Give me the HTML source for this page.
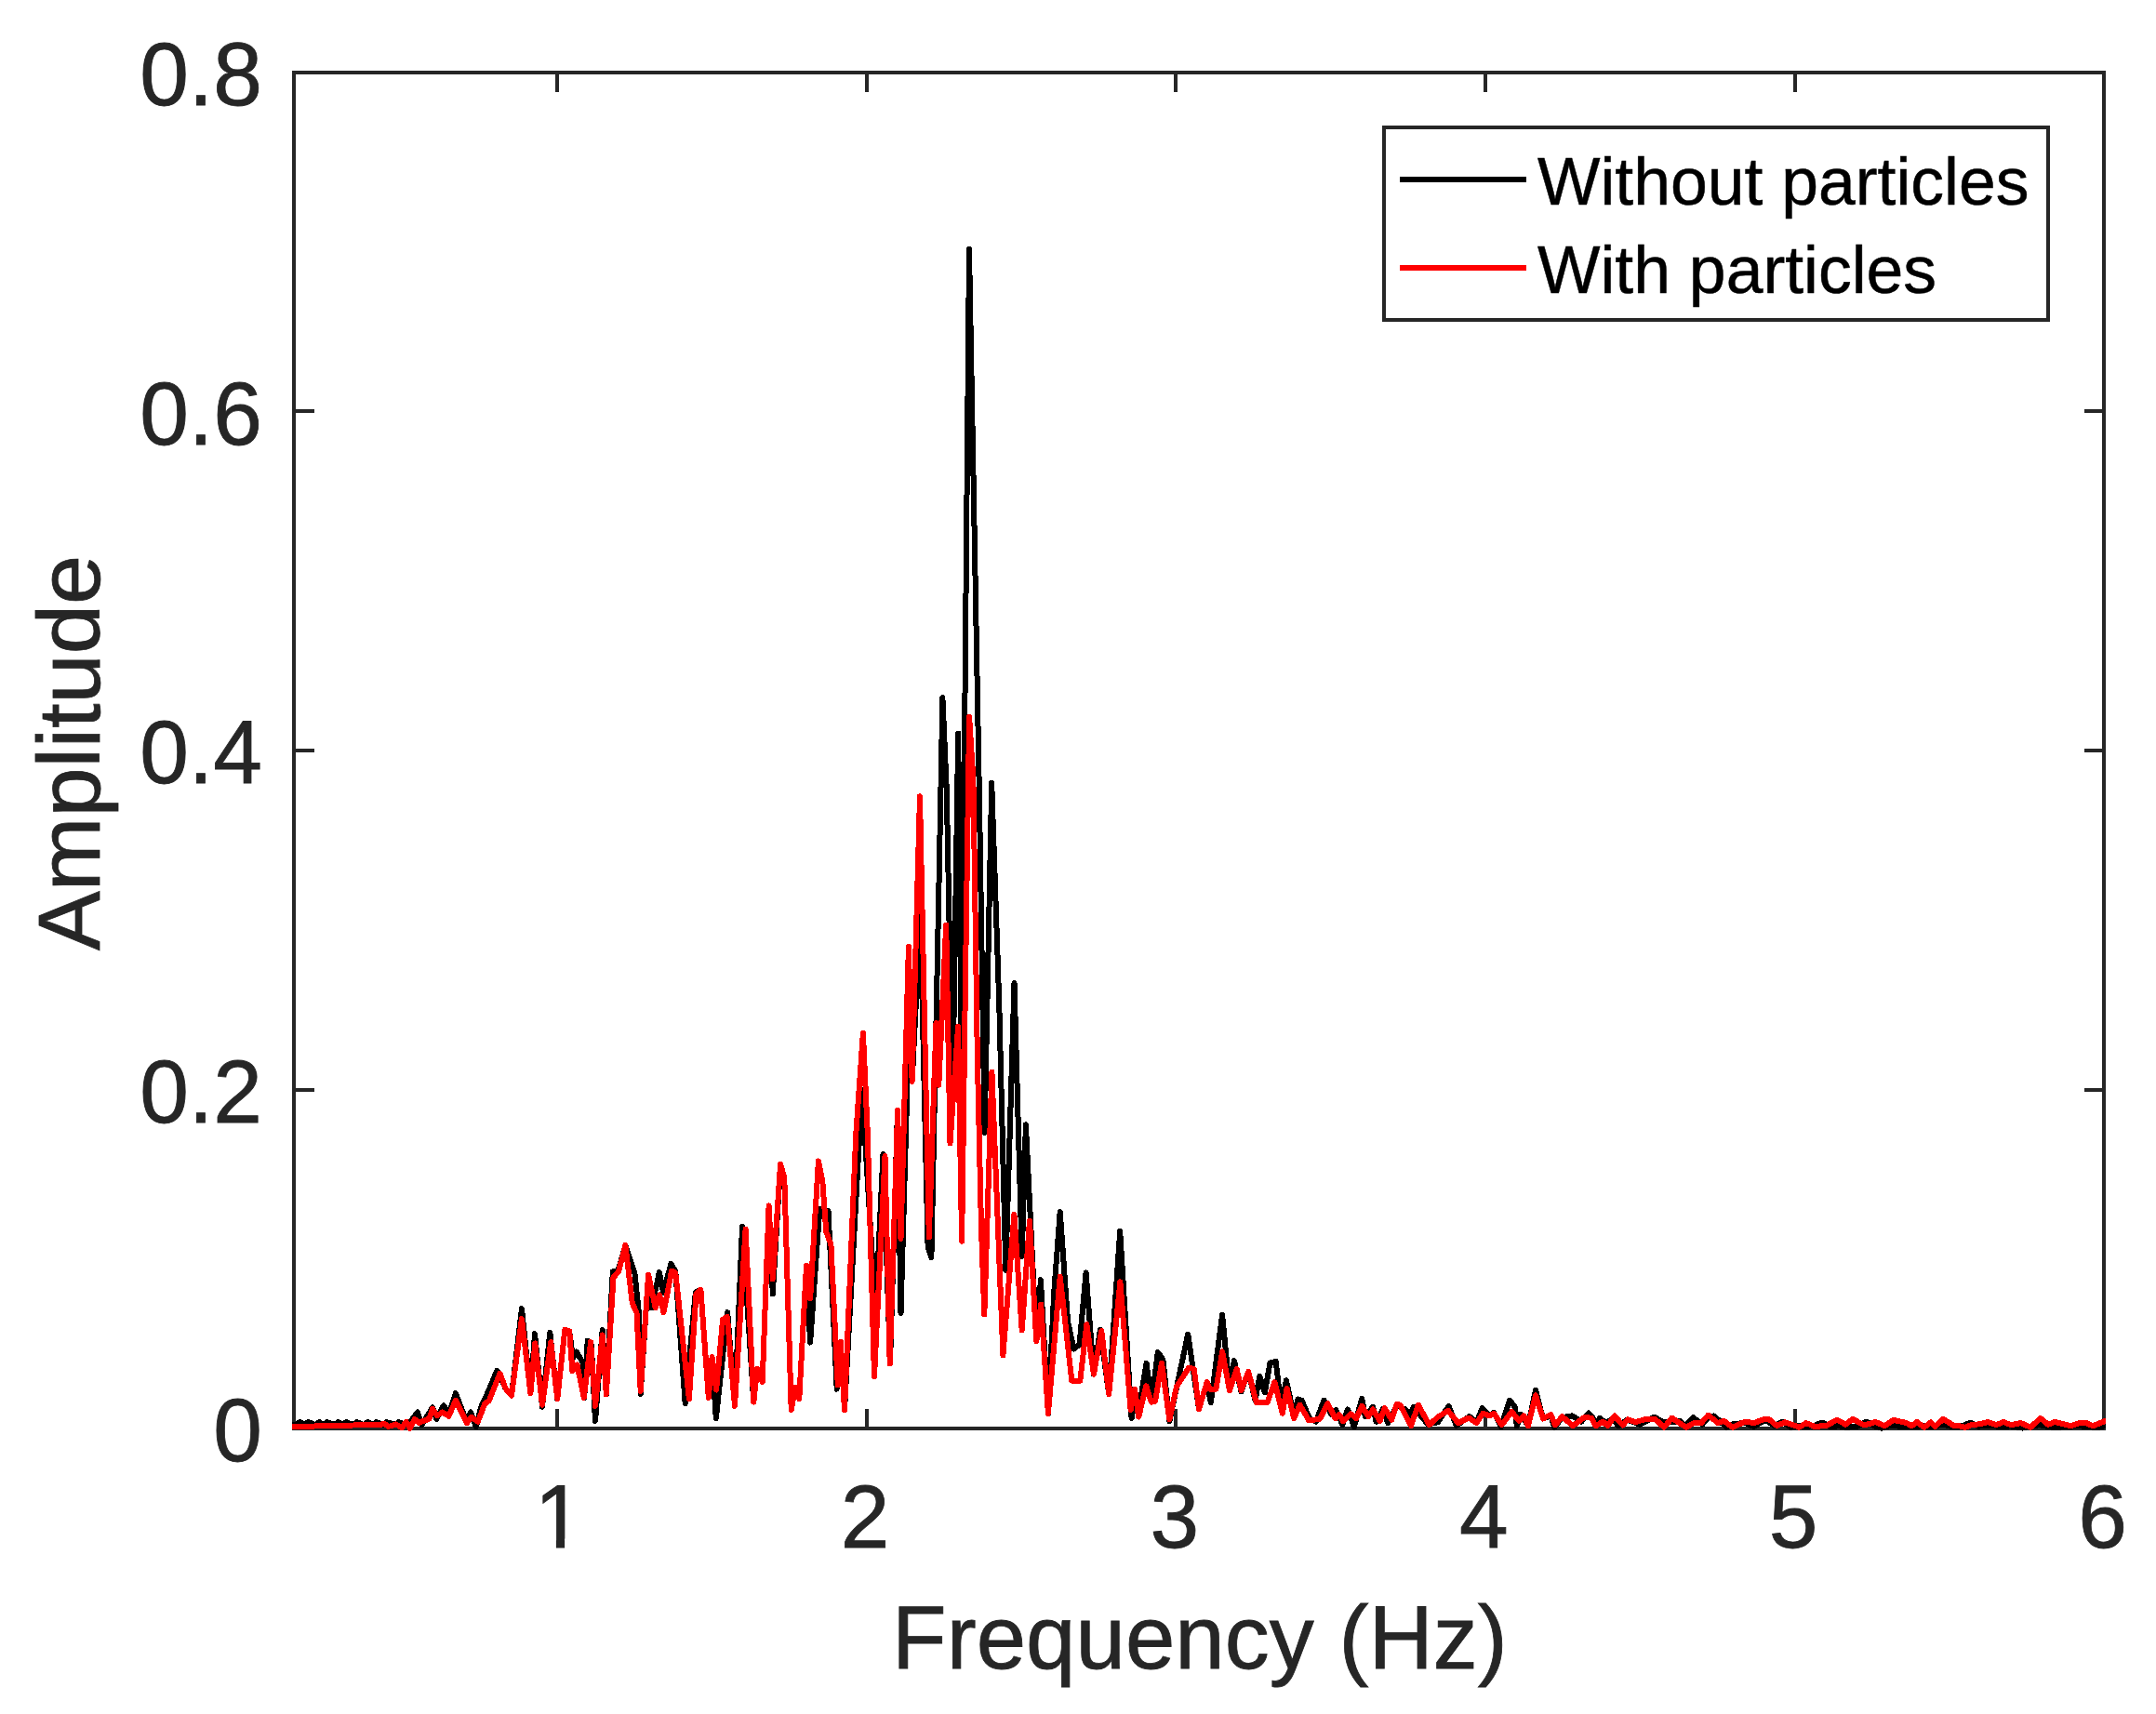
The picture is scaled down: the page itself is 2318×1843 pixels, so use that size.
<!DOCTYPE html>
<html lang="en"><head><meta charset="utf-8"><title>Amplitude spectrum</title>
<style>html,body{margin:0;padding:0;background:#fff;}body{width:2318px;height:1843px;overflow:hidden;}svg{display:block;}</style>
</head><body>
<svg width="2318" height="1843" viewBox="0 0 2318 1843">
<rect x="0" y="0" width="2318" height="1843" fill="#ffffff"/>
<g fill="none" stroke="#262626" stroke-width="4" shape-rendering="crispEdges">
<rect x="316" y="78" width="1946" height="1458"/>
<line x1="599" y1="1536" x2="599" y2="1515"/>
<line x1="599" y1="78" x2="599" y2="99"/>
<line x1="932" y1="1536" x2="932" y2="1515"/>
<line x1="932" y1="78" x2="932" y2="99"/>
<line x1="1264" y1="1536" x2="1264" y2="1515"/>
<line x1="1264" y1="78" x2="1264" y2="99"/>
<line x1="1597" y1="1536" x2="1597" y2="1515"/>
<line x1="1597" y1="78" x2="1597" y2="99"/>
<line x1="1930" y1="1536" x2="1930" y2="1515"/>
<line x1="1930" y1="78" x2="1930" y2="99"/>
<line x1="316" y1="1172" x2="338" y2="1172"/>
<line x1="2262" y1="1172" x2="2241" y2="1172"/>
<line x1="316" y1="807" x2="338" y2="807"/>
<line x1="2262" y1="807" x2="2241" y2="807"/>
<line x1="316" y1="442" x2="338" y2="442"/>
<line x1="2262" y1="442" x2="2241" y2="442"/>
</g>
<clipPath id="plotclip"><rect x="314" y="76" width="1950" height="1463"/></clipPath>
<g clip-path="url(#plotclip)" fill="none" stroke-width="6" stroke-linejoin="round" stroke-linecap="butt" shape-rendering="crispEdges">
<path stroke="#000000" d="M312.0,1531.5 L318.3,1531.9 L322.5,1529.1 L327.0,1531.9 L331.1,1529.1 L338.9,1531.9 L343.1,1529.1 L347.6,1531.9 L351.7,1529.1 L359.4,1531.9 L363.6,1529.1 L368.0,1531.9 L372.2,1529.1 L379.6,1531.9 L383.7,1529.1 L391.0,1531.9 L395.2,1529.1 L400.4,1531.9 L404.6,1529.1 L411.6,1531.9 L415.7,1529.1 L424.4,1531.9 L428.5,1529.1 L435.2,1531.5 L440.8,1529.4 L448.9,1518.5 L453.3,1532.2 L465.1,1513.4 L469.3,1525.9 L477.0,1511.3 L482.5,1521.1 L489.9,1498.1 L502.0,1529.4 L505.9,1518.3 L511.8,1534.3 L517.3,1512.7 L525.0,1496.0 L534.3,1473.7 L543.8,1493.5 L550.0,1500.5 L561.0,1407.0 L570.4,1498.1 L575.0,1434.1 L583.0,1512.7 L591.3,1432.7 L599.2,1504.4 L607.3,1429.9 L612.2,1431.3 L615.9,1460.5 L619.8,1453.6 L626.8,1465.4 L628.2,1503.0 L631.7,1441.7 L635.8,1445.9 L640.0,1528.0 L647.7,1429.9 L651.8,1499.5 L658.8,1367.3 L664.4,1366.6 L672.4,1339.5 L682.4,1368.7 L686.6,1409.0 L688.7,1498.8 L697.1,1370.8 L700.5,1406.3 L708.9,1368.0 L713.1,1389.6 L721.4,1359.0 L726.3,1367.3 L736.7,1509.2 L747.8,1389.6 L753.4,1386.8 L761.8,1503.0 L765.6,1459.1 L769.8,1525.2 L782.2,1411.1 L790.0,1512.0 L798.0,1319.0 L810.3,1507.6 L814.1,1472.0 L819.7,1486.0 L826.6,1296.4 L830.8,1391.4 L839.1,1251.8 L843.3,1266.0 L850.7,1515.9 L855.1,1492.0 L859.3,1504.0 L867.0,1360.8 L871.1,1443.6 L881.3,1299.8 L890.5,1302.0 L899.7,1493.7 L903.8,1442.9 L908.0,1516.0 L926.8,1171.8 L941.4,1410.2 L949.5,1241.0 L957.0,1466.0 L965.0,1194.0 L968.5,1412.0 L977.0,1112.0 L980.8,1160.0 L989.5,985.0 L997.6,1341.0 L1001.4,1352.0 L1008.8,985.0 L1013.4,750.0 L1017.8,850.0 L1024.2,1180.0 L1030.2,788.5 L1033.8,1140.0 L1042.0,268.0 L1052.8,850.0 L1058.6,1217.7 L1066.2,842.0 L1074.3,1080.0 L1081.3,1365.7 L1090.5,1057.0 L1098.7,1351.0 L1102.9,1209.4 L1114.3,1440.8 L1118.9,1376.1 L1126.9,1520.1 L1133.2,1390.0 L1139.7,1303.0 L1148.1,1421.0 L1154.4,1450.5 L1160.6,1445.7 L1167.6,1368.4 L1175.9,1477.7 L1182.9,1429.7 L1192.2,1499.2 L1204.2,1323.9 L1216.6,1525.0 L1220.4,1504.8 L1223.9,1518.7 L1232.6,1465.8 L1238.1,1507.6 L1244.8,1454.0 L1250.4,1461.7 L1257.3,1528.2 L1277.2,1434.5 L1289.0,1515.2 L1297.7,1486.0 L1301.8,1508.3 L1314.1,1413.7 L1322.0,1495.1 L1326.9,1463.1 L1334.5,1496.4 L1342.2,1474.9 L1349.5,1505.7 L1354.3,1480.0 L1359.9,1497.4 L1365.5,1465.4 L1371.7,1464.0 L1377.3,1511.3 L1382.9,1484.2 L1391.2,1522.4 L1395.4,1504.4 L1399.6,1505.7 L1407.9,1525.2 L1414.9,1528.7 L1423.5,1505.7 L1431.6,1521.1 L1436.4,1516.2 L1443.4,1532.2 L1449.0,1515.5 L1455.9,1534.3 L1464.3,1503.7 L1467.7,1523.1 L1476.1,1512.7 L1479.6,1528.7 L1487.2,1514.8 L1492.1,1530.1 L1501.8,1511.3 L1510.9,1515.5 L1515.8,1522.4 L1519.9,1512.7 L1527.6,1522.4 L1534.5,1530.8 L1545.7,1529.4 L1557.5,1512.0 L1565.8,1532.9 L1579.8,1523.1 L1587.4,1529.4 L1593.7,1514.1 L1601.3,1521.7 L1606.2,1519.0 L1613.8,1534.3 L1623.0,1505.6 L1629.1,1513.3 L1630.7,1533.2 L1635.3,1520.9 L1642.9,1533.2 L1651.0,1494.6 L1659.0,1525.5 L1667.4,1522.4 L1671.2,1534.7 L1679.6,1524.0 L1690.4,1522.4 L1700.3,1528.6 L1708.0,1519.4 L1717.1,1530.1 L1720.2,1524.7 L1726.3,1530.1 L1734.0,1525.5 L1740.1,1533.2 L1749.3,1526.7 L1763.1,1531.6 L1778.4,1523.7 L1789.1,1529.3 L1806.7,1528.3 L1812.0,1533.2 L1820.5,1524.3 L1830.4,1531.6 L1836.5,1524.0 L1842.7,1522.4 L1856.4,1534.7 L1864.1,1530.9 L1876.3,1530.1 L1885.5,1533.9 L1897.8,1527.0 L1908.5,1533.2 L1916.1,1528.6 L1925.3,1534.7 L1934.5,1533.2 L1939.5,1534.0 L1948.9,1533.3 L1959.2,1529.6 L1967.8,1534.0 L1977.3,1533.3 L1985.2,1534.8 L1996.2,1534.0 L2006.5,1528.8 L2015.2,1533.3 L2023.0,1535.6 L2034.1,1532.5 L2043.5,1534.0 L2056.2,1534.4 L2065.6,1533.3 L2076.7,1534.0 L2089.3,1531.7 L2100.3,1534.4 L2109.8,1533.3 L2118.5,1529.6 L2127.1,1533.7 L2138.2,1532.5 L2150.8,1534.0 L2161.8,1533.4 L2174.4,1535.6 L2183.9,1533.3 L2193.4,1532.2 L2201.2,1534.0 L2210.7,1535.3 L2221.7,1533.7 L2234.4,1533.3 L2245.4,1534.0 L2254.9,1535.3 L2266.0,1532.5"/>
<path stroke="#ff0000" d="M312.0,1533.9 L351.7,1533.3 L379.6,1532.5 L407.4,1532.2 L413.0,1530.8 L417.8,1533.9 L425.5,1531.5 L432.4,1535.2 L436.6,1528.7 L440.8,1535.7 L445.7,1525.9 L450.5,1529.7 L457.5,1527.3 L461.7,1525.2 L465.1,1514.8 L470.0,1522.2 L475.6,1518.5 L482.5,1522.7 L489.9,1505.7 L502.0,1530.1 L506.9,1523.8 L513.8,1528.7 L521.5,1508.8 L525.7,1506.4 L537.5,1476.8 L543.8,1493.5 L550.0,1500.5 L561.0,1418.0 L570.4,1498.1 L575.3,1444.5 L583.0,1510.6 L592.3,1443.1 L599.2,1504.4 L607.3,1429.9 L612.2,1431.3 L615.4,1474.4 L620.5,1467.5 L627.8,1503.0 L635.1,1443.1 L640.0,1512.0 L647.7,1435.5 L651.8,1499.5 L659.5,1373.6 L665.1,1367.3 L672.4,1338.8 L679.7,1400.7 L684.5,1411.8 L688.7,1496.0 L697.1,1370.8 L704.7,1406.3 L708.9,1392.4 L713.5,1411.1 L722.1,1366.6 L726.3,1368.7 L740.9,1504.4 L748.5,1391.0 L753.4,1386.8 L761.8,1503.0 L765.6,1459.1 L770.1,1494.6 L777.1,1418.8 L781.9,1416.0 L790.0,1512.0 L801.6,1321.8 L810.3,1507.6 L814.1,1472.0 L819.7,1486.0 L826.6,1296.4 L830.8,1375.4 L839.1,1251.8 L843.3,1266.0 L850.7,1515.9 L855.1,1492.0 L859.3,1504.0 L867.0,1360.8 L871.1,1396.3 L879.9,1248.4 L884.3,1270.0 L888.3,1324.7 L893.4,1338.0 L900.8,1489.5 L903.8,1442.9 L908.0,1516.0 L920.3,1219.0 L927.9,1110.6 L932.8,1219.0 L940.0,1480.4 L951.5,1243.0 L956.7,1466.5 L965.1,1194.1 L968.5,1332.0 L976.9,1017.7 L980.6,1162.8 L989.0,856.3 L998.8,1330.4 L1006.5,1100.0 L1009.3,1166.7 L1017.2,994.5 L1021.5,1229.4 L1030.1,1104.0 L1034.1,1334.7 L1038.3,1030.0 L1042.1,771.0 L1046.4,838.0 L1050.8,1134.0 L1055.0,1320.0 L1058.3,1413.4 L1066.4,1152.8 L1078.4,1457.3 L1090.4,1305.8 L1098.7,1430.4 L1107.0,1312.8 L1114.3,1442.2 L1119.2,1402.5 L1126.9,1520.1 L1139.7,1372.6 L1152.3,1484.6 L1161.3,1484.6 L1168.3,1424.1 L1175.9,1477.7 L1184.3,1431.1 L1192.2,1499.2 L1204.4,1378.2 L1215.6,1515.9 L1220.0,1493.9 L1224.2,1523.6 L1232.3,1490.2 L1237.8,1507.6 L1242.0,1506.9 L1249.0,1465.6 L1257.3,1526.4 L1265.0,1490.9 L1278.2,1470.7 L1283.8,1472.1 L1289.0,1515.2 L1297.7,1486.0 L1300.5,1493.7 L1307.4,1493.7 L1314.1,1453.3 L1322.0,1495.1 L1329.7,1472.1 L1334.5,1495.1 L1342.2,1474.9 L1350.9,1508.5 L1362.7,1507.8 L1370.4,1486.3 L1378.7,1519.7 L1383.6,1493.2 L1391.2,1525.2 L1397.5,1510.6 L1407.2,1527.3 L1419.0,1525.9 L1427.4,1509.2 L1435.7,1525.2 L1439.9,1521.1 L1444.1,1528.0 L1452.4,1520.4 L1458.0,1525.2 L1464.3,1512.0 L1471.2,1523.1 L1476.1,1515.5 L1483.7,1528.0 L1488.6,1514.1 L1496.3,1526.6 L1501.8,1509.9 L1505.3,1510.6 L1517.1,1532.9 L1524.8,1510.6 L1536.6,1532.2 L1545.7,1523.8 L1556.8,1516.9 L1567.9,1530.1 L1579.1,1524.5 L1587.4,1530.1 L1594.4,1519.7 L1601.3,1522.4 L1606.2,1519.7 L1614.5,1532.2 L1625.3,1517.9 L1633.0,1527.8 L1638.3,1522.4 L1642.9,1533.2 L1651.0,1500.3 L1659.0,1525.5 L1667.4,1520.9 L1672.0,1532.4 L1679.6,1523.2 L1691.1,1533.2 L1703.4,1524.0 L1711.0,1524.7 L1715.6,1533.2 L1723.3,1528.6 L1728.6,1533.2 L1735.8,1522.4 L1744.7,1532.4 L1750.1,1526.3 L1758.5,1529.3 L1767.7,1526.3 L1779.9,1526.3 L1789.1,1534.7 L1797.5,1524.7 L1812.8,1534.7 L1821.2,1530.1 L1828.9,1530.1 L1836.5,1521.7 L1847.2,1530.1 L1853.4,1527.8 L1862.6,1534.7 L1876.3,1528.6 L1885.5,1530.1 L1896.2,1526.3 L1902.3,1526.3 L1910.0,1532.9 L1919.2,1529.3 L1934.5,1534.7 L1941.8,1530.1 L1950.5,1533.7 L1963.1,1533.3 L1974.9,1526.6 L1984.4,1531.7 L1991.8,1525.8 L2004.1,1532.5 L2016.7,1529.0 L2026.2,1533.3 L2035.7,1526.9 L2049.9,1530.1 L2055.4,1533.3 L2060.9,1529.0 L2068.8,1534.8 L2075.9,1529.3 L2080.6,1533.7 L2089.3,1525.8 L2101.1,1533.3 L2106.6,1533.3 L2112.9,1534.8 L2119.2,1532.2 L2128.7,1531.2 L2137.4,1529.0 L2146.0,1532.2 L2153.9,1529.0 L2161.8,1532.2 L2172.9,1530.1 L2183.1,1534.8 L2193.7,1524.9 L2202.0,1531.7 L2209.1,1529.0 L2226.5,1533.3 L2235.9,1530.1 L2243.0,1530.1 L2250.1,1533.3 L2266.0,1526.9"/>
</g>
<g font-family="'Liberation Sans', Arial, Helvetica, sans-serif" font-size="94px" fill="#262626" stroke="#262626" stroke-width="0.8">
<text transform="translate(601.0,1664.3) scale(1.007,1.031)" text-anchor="middle">1</text>
<text transform="translate(930.1,1664.3) scale(1.007,1.031)" text-anchor="middle">2</text>
<text transform="translate(1262.8,1664.3) scale(1.007,1.031)" text-anchor="middle">3</text>
<text transform="translate(1595.4,1664.3) scale(1.007,1.031)" text-anchor="middle">4</text>
<text transform="translate(1928.1,1664.3) scale(1.007,1.031)" text-anchor="middle">5</text>
<text transform="translate(2260.7,1664.3) scale(1.007,1.031)" text-anchor="middle">6</text>
<text transform="translate(281.8,1571.0) scale(1.007,1.031)" text-anchor="end">0</text>
<text transform="translate(281.8,1206.5) scale(1.007,1.031)" text-anchor="end">0.2</text>
<text transform="translate(281.8,842.0) scale(1.007,1.031)" text-anchor="end">0.4</text>
<text transform="translate(281.8,477.5) scale(1.007,1.031)" text-anchor="end">0.6</text>
<text transform="translate(281.8,113.0) scale(1.007,1.031)" text-anchor="end">0.8</text>
<text transform="translate(1289.9,1794.1) scale(1.011,1.012)" text-anchor="middle" font-size="95px">Frequency (Hz)</text>
<text transform="translate(106.8,809.4) rotate(-90) scale(1.006,1.005)" text-anchor="middle" font-size="95px">Amplitude</text>
</g>
<rect x="574" y="1654.6" width="23.9" height="14" fill="#ffffff"/>
<rect x="607.1" y="1654.6" width="20" height="14" fill="#ffffff"/>
<rect x="1488" y="137" width="714" height="207" fill="#ffffff" stroke="#262626" stroke-width="4" shape-rendering="crispEdges"/>
<line x1="1505" y1="193" x2="1641" y2="193" stroke="#000000" stroke-width="6" shape-rendering="crispEdges"/>
<line x1="1505" y1="288" x2="1641" y2="288" stroke="#ff0000" stroke-width="6" shape-rendering="crispEdges"/>
<g font-family="'Liberation Sans', Arial, Helvetica, sans-serif" font-size="71.5px" fill="#000000" stroke="#000000" stroke-width="0.5">
<text x="1653" y="220">Without particles</text>
<text x="1653" y="315">With particles</text>
</g>
</svg>
</body></html>
